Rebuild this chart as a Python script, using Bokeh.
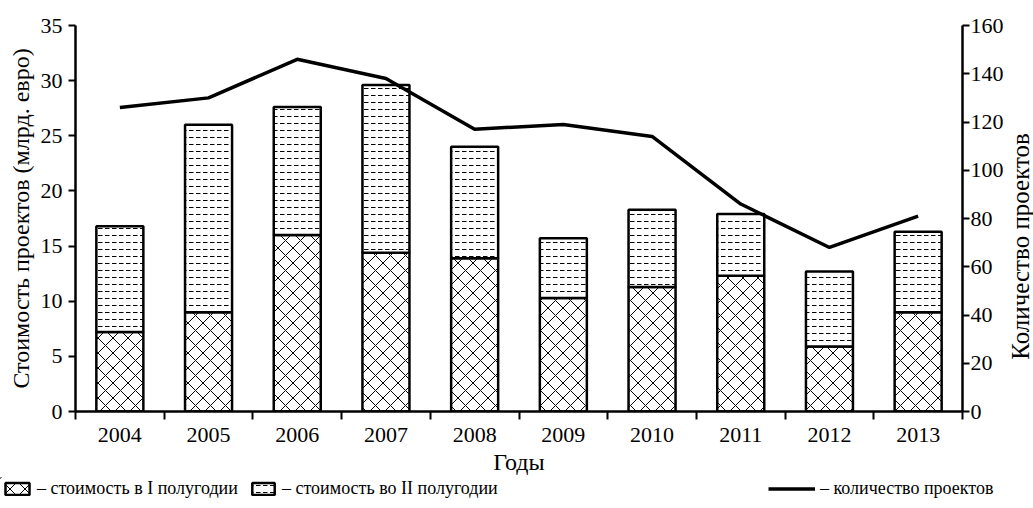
from bokeh.plotting import figure
from bokeh.models import (Range1d, LinearAxis, FixedTicker, Legend, LegendItem, Label)
from bokeh.layouts import column, row
from bokeh.embed import file_html
from bokeh.resources import INLINE

years = ["2004", "2005", "2006", "2007", "2008", "2009", "2010", "2011", "2012", "2013"]
cost_h1 = [7.2, 9.0, 16.0, 14.4, 13.9, 10.3, 11.3, 12.3, 5.9, 9.0]
cost_h2 = [9.6, 17.0, 11.6, 15.2, 10.1, 5.4, 7.0, 5.6, 6.8, 7.3]
projects = [126, 130, 146, 138, 117, 119, 114, 86, 68, 81]
left_ticks = [0, 5, 10, 15, 20, 25, 30, 35]
right_ticks = [0, 20, 40, 60, 80, 100, 120, 140, 160]

n = len(years)
xc = [i + 0.5 for i in range(n)]
bounds = list(range(n + 1))
totals = [a + b for a, b in zip(cost_h1, cost_h2)]

FONT = "Liberation Serif"
W_TOT, H_TOT = 1033, 508
W_MAIN, H_MAIN = 1006, 477
W_LAB = W_TOT - W_MAIN
H_LEG = H_TOT - H_MAIN
FL, FT, FR, FB = 75, 25, 966, 411

p = figure(x_range=Range1d(0, n), y_range=Range1d(0, 35), width=W_MAIN, height=H_MAIN,
           min_border_left=FL, min_border_right=W_MAIN - FR, min_border_top=FT,
           min_border_bottom=H_MAIN - FB,
           x_axis_location=None, output_backend="svg", toolbar_location=None)
p.outline_line_color = None
p.xgrid.visible = False
p.ygrid.visible = False
p.extra_y_ranges = {"cnt": Range1d(0, 160)}

def style_axis(ax):
    ax.axis_line_width = 2.5
    ax.axis_line_color = "black"
    ax.major_tick_line_width = 2
    ax.major_tick_line_color = "black"
    ax.major_tick_in = 0
    ax.major_tick_out = 7
    ax.minor_tick_line_color = None
    ax.major_label_text_font = FONT
    ax.major_label_text_font_size = "22px"
    ax.major_label_text_color = "black"
    ax.axis_label_text_font = FONT
    ax.axis_label_text_font_size = "24px"
    ax.axis_label_text_font_style = "normal"
    ax.axis_label_text_color = "black"

ly = p.yaxis[0]
style_axis(ly)
ly.ticker = FixedTicker(ticks=left_ticks)
ly.axis_label = "Стоимость проектов (млрд. евро)"
ly.major_label_standoff = 6
ly.axis_label_standoff = 4

ry = LinearAxis(y_range_name="cnt", ticker=FixedTicker(ticks=right_ticks))
style_axis(ry)
ry.major_label_standoff = 1
p.add_layout(ry, "right")

bx = LinearAxis(ticker=FixedTicker(ticks=xc, minor_ticks=bounds),
                major_label_overrides={x: y for x, y in zip(xc, years)})
style_axis(bx)
bx.major_tick_out = 0
bx.major_tick_line_color = None
bx.minor_tick_line_color = "black"
bx.minor_tick_line_width = 2
bx.minor_tick_in = 0
bx.minor_tick_out = 8
bx.major_label_standoff = 8
bx.axis_label = "Годы"
bx.axis_label_standoff = 4
p.add_layout(bx, "below")

r1 = p.vbar(x=xc, top=cost_h1, bottom=0, width=0.53,
            fill_color="white", line_color="black", line_width=2.5,
            hatch_pattern="diagonal_cross", hatch_scale=15, hatch_weight=1, hatch_color="black")
r2 = p.vbar(x=xc, top=totals, bottom=cost_h1, width=0.53,
            fill_color="white", line_color="black", line_width=2.5,
            hatch_pattern="horizontal_dash", hatch_scale=7, hatch_weight=1, hatch_color="black")
r3 = p.line(x=xc, y=projects, y_range_name="cnt", line_color="black", line_width=3.5)

# right axis title (reads bottom-to-top)
lab = figure(x_range=Range1d(0, W_LAB), y_range=Range1d(0, H_MAIN), width=W_LAB, height=H_MAIN,
             min_border=0, x_axis_location=None, y_axis_location=None,
             output_backend="svg", toolbar_location=None)
lab.outline_line_color = None
lab.xgrid.visible = False
lab.ygrid.visible = False
lab.add_layout(Label(x=14, y=H_MAIN - 273, text="Количество проектов", angle=1.5707963,
                     text_align="center", text_baseline="alphabetic", text_font=FONT,
                     text_font_size="25px", text_color="black"))

# legend row (swatch renderers sit far outside the visible range; only their legend glyphs show)
leg = figure(x_range=Range1d(0, W_TOT), y_range=Range1d(0, H_LEG), width=W_TOT, height=H_LEG,
             min_border=0, x_axis_location=None, y_axis_location=None,
             output_backend="svg", toolbar_location=None)
leg.outline_line_color = None
leg.xgrid.visible = False
leg.ygrid.visible = False
l1 = leg.vbar(x=[-5000], bottom=[5000], top=[5001], width=1, fill_color="white", line_color="black",
              line_width=2.5, hatch_pattern="diagonal_cross", hatch_scale=15, hatch_weight=1,
              hatch_color="black")
l2 = leg.vbar(x=[-5000], bottom=[5000], top=[5001], width=1, fill_color="white", line_color="black",
              line_width=2.5, hatch_pattern="horizontal_dash", hatch_scale=7, hatch_weight=1,
              hatch_color="black")
l3 = leg.line(x=[-5000, -4990], y=[5000, 5000], line_color="black", line_width=3.5)

def mk_legend(item, loc, gw):
    lg = Legend(items=[item], location=loc, orientation="horizontal",
                padding=0, margin=0, spacing=0, border_line_color=None,
                background_fill_alpha=0, glyph_width=gw, glyph_height=15,
                label_standoff=5, label_text_font=FONT, label_text_font_size="18px",
                label_text_color="black", label_height=15, label_text_baseline="middle")
    leg.add_layout(lg, "center")

mk_legend(LegendItem(label="– стоимость в I полугодии", renderers=[l1]), (2, 9), 30)
mk_legend(LegendItem(label="– стоимость во II полугодии", renderers=[l2]), (249, 9), 28)
mk_legend(LegendItem(label="– количество проектов", renderers=[l3]), (768, 9), 47)

layout = column(row(p, lab, spacing=0), leg, spacing=0)
open("out.html", "w").write(file_html(layout, INLINE))
